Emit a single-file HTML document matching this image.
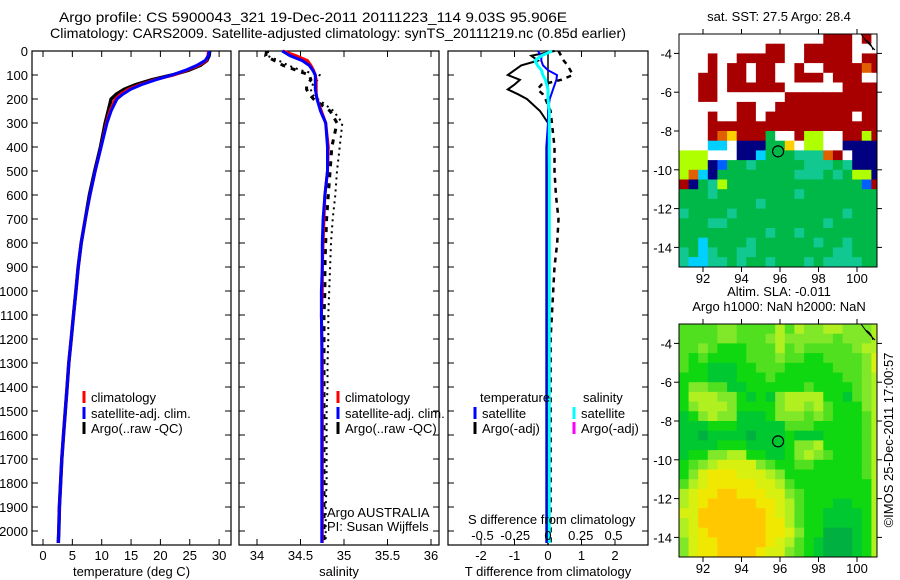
<!DOCTYPE html>
<html><head><meta charset="utf-8">
<style>
body{margin:0;background:#fff;}
svg{display:block;font-family:"Liberation Sans",sans-serif;}
text{fill:#000;}
</style></head>
<body>
<svg id="fig" width="900" height="580" viewBox="0 0 900 580" xmlns="http://www.w3.org/2000/svg">
<text x="59" y="22" font-size="14" textLength="508" lengthAdjust="spacingAndGlyphs">Argo profile: CS 5900043_321 19-Dec-2011 20111223_114 9.03S 95.906E</text>
<text x="50" y="38" font-size="14" textLength="576" lengthAdjust="spacingAndGlyphs">Climatology: CARS2009. Satellite-adjusted climatology: synTS_20111219.nc (0.85d earlier)</text>
<g id="g1"></g>
<g id="g2"></g>
<g id="g3"></g>
<g id="m1"></g>
<g id="m2"></g>
<text x="893" y="440" font-size="13" text-anchor="middle" transform="rotate(-90 893 440)">©IMOS 25-Dec-2011 17:00:57</text>
</svg>
<script>
const depths=[0,20,40,60,80,100,120,140,160,180,200,250,300,400,500,600,700,800,900,1000,1100,1200,1300,1400,1500,1600,1700,1800,1900,2000,2050];
const tempClim=[28.2,28.1,27.8,26.5,24.5,22.3,19,16.5,14.5,13.2,12.3,11.4,10.8,9.9,8.9,8.0,7.2,6.5,6.0,5.6,5.2,4.8,4.4,4.1,3.8,3.5,3.2,3.0,2.8,2.7,2.6];
const tempSat=[28.3,28.2,27.6,26.2,24.3,22.0,19.2,16.8,14.9,13.6,12.6,11.6,10.9,9.9,8.9,8.0,7.2,6.5,6.0,5.6,5.2,4.8,4.4,4.1,3.8,3.5,3.2,3.0,2.8,2.7,2.6];
const tempArgo=[28.4,28.3,27.9,26.8,24.8,22.0,18.5,15.8,13.8,12.5,11.6,11.1,10.6,9.8,8.8,7.9,7.2,6.5,6.0,5.6,5.2,4.8,4.4,4.1,3.8,3.5,3.2,3.0,2.8,2.7,2.6];
const salClim=[34.3,34.45,34.58,34.62,34.65,34.67,34.68,34.68,34.68,34.68,34.69,34.74,34.79,34.82,34.81,34.78,34.77,34.76,34.75,34.75,34.74,34.745,34.75,34.75,34.75,34.75,34.75,34.75,34.75,34.75,34.75];
const salSat=[34.29,34.38,34.52,34.6,34.64,34.67,34.67,34.67,34.67,34.68,34.69,34.73,34.79,34.81,34.81,34.78,34.76,34.75,34.75,34.74,34.74,34.745,34.745,34.745,34.745,34.745,34.745,34.745,34.745,34.745,34.745];
const salArgo=[34.11,34.1,34.2,34.3,34.45,34.6,34.62,34.57,34.57,34.6,34.65,34.84,34.92,34.86,34.84,34.82,34.8,34.79,34.78,34.78,34.77,34.77,34.77,34.77,34.77,34.77,34.77,34.77,34.77,34.77,34.77];
const salArgoRaw=[34.13,34.12,34.25,34.36,34.5,34.72,34.7,34.64,34.62,34.63,34.7,34.88,34.98,34.95,34.92,34.9,34.87,34.85,34.84,34.83,34.82,34.82,34.81,34.81,34.8,34.8,34.8,34.8,34.79,34.79,34.79];
const tdiffSat=[-0.3,-0.2,-0.2,-0.15,0.0,0.27,0.25,0.2,0.15,0.1,0.05,0,0,-0.05,-0.05,-0.05,-0.05,-0.05,-0.05,-0.05,-0.05,-0.05,-0.05,-0.05,-0.05,-0.05,-0.05,-0.05,-0.05,-0.05,-0.05];
const tdiffArgo=[0.2,-0.5,-0.3,-0.8,-1.0,-1.2,-0.84,-1.0,-1.2,-0.9,-0.63,-0.24,0,0.02,0,0,0,0,0,0,0,0,0,0,0,0,0,0,0,0,0];
const sdiffSat=[0.03,-0.05,-0.1,-0.08,-0.05,-0.04,-0.02,-0.01,0,0,0,0.01,0.01,0.01,0.01,0.01,0.01,0.01,0.01,0.01,0.01,0.01,0.01,0.01,0.01,0.01,0.01,0.01,0.01,0.01,0.01];
const sdiffArgo=[0.08,0.1,0.12,0.15,0.17,0.19,0.1,-0.05,-0.08,-0.04,-0.02,0.02,0.03,0.05,0.05,0.06,0.08,0.07,0.05,0.04,0.03,0.02,0.02,0.02,0.02,0.02,0.02,0.02,0.02,0.02,0.02];
const depthTicks=[0,100,200,300,400,500,600,700,800,900,1000,1100,1200,1300,1400,1500,1600,1700,1800,1900,2000];
const tempTicks=[0,5,10,15,20,25,30];
const salTicks=[34,34.5,35,35.5,36];
const tdTicks=[-2,-1,0,1,2];
const sdTicks=[-0.5,-0.25,0,0.25,0.5];
const sdTickLabels=["-0.5","-0.25","0","0.25","0.5"];
const lonTicks=[92,94,96,98,100];
const latTicks=[-4,-6,-8,-10,-12,-14];
const sstRows=[
"WWWWWWWWWWWWWWWRRRWRW","WWWWWWWWWRRWWRRRRRWWW","WWWRWWRRRRRWWRRRRRWRR","WWWRWRRWRRWWRWWRRRROR",
"WWRRWRRWRRWWRRRWRRRWW","WWRRWRRRRRRWWWWWWRRRR","WWRRWWWWWWWRRRRRRRRRR","WWWWWWRRWWRRRRRRRRRRR",
"WWWRWWRRWRRRRRRRRRWRR","WWWRRRRRRRRRRRRRRRRRR","WWWROYRRRGWWRLLWWRRLR","WWWCCWNNNGGYWLLWWNNNN",
"LLLWWWNNCGGGTTTORWNNN","LLLNBGGTGGGGGTTTGTNNN","LOCNGGGGGGGGTTTGTGLLN","RNGTLGGGGGGGGGGGGGGBR",
"GGGTGGGGGGGGTGGGGGGGG","GGGGGGGGTGGGGGGGGGGGG","TGGGGTGGGGGGGGGGGTGGG","GGGTTGGGGGGGGGGTGGGGG",
"GGGGGGGGGTGGTGGGGGGGG","GGCGGGGTGGGGGGTGGTGGG","TGCTGGTTGGGGGGGGTTGGG","TCCTTGTGGTGGGTGTTTTGG"];
const slaRows=[
"444455444464655665556","444455444565555545556","445433344464544444566","434333344454433444457",
"433222334443333344457","333222333433333334456","355442233333343333456","366655323256666332456",
"356665333356656433356","235655222355545433346","222333222224443333346","221222212223222333346",
"222233322223556333346","233556633223565433346","345677775433443333346","357888777653333333346",
"467888887764333333336","678899888775433333336","678999998876433322336","779999999876433222236",
"679999999886433222236","678999999887533111236","578899999876432111236","578899998775432111236"];
const argoLon=95.9, argoLat=-9.05;

const NS="http://www.w3.org/2000/svg";
function mk(parent,tag,attrs){const e=document.createElementNS(NS,tag);for(const k in attrs)e.setAttribute(k,attrs[k]);parent.appendChild(e);return e;}
const Y=d=>51+d*0.24;
const TOP=51,BOT=545;

function frame(g,x0,x1,xs,ticks,labels,title){
  let r=mk(g,'rect',{x:x0,y:TOP,width:x1-x0,height:BOT-TOP,fill:'none',stroke:'#000','stroke-width':1.2});
  
  ticks.forEach((t,i)=>{const x=xs(t);
    mk(g,'line',{x1:x,x2:x,y1:TOP,y2:TOP+6,stroke:'#000'});
    mk(g,'line',{x1:x,x2:x,y1:BOT,y2:BOT-6,stroke:'#000'});
    if(labels){const tx=mk(g,'text',{x:x,y:560,'font-size':13,'text-anchor':'middle'});tx.textContent=labels[i];
      }
  });
  depthTicks.forEach(d=>{mk(g,'line',{x1:x0,x2:x0+6,y1:Y(d),y2:Y(d),stroke:'#000'});mk(g,'line',{x1:x1,x2:x1-6,y1:Y(d),y2:Y(d),stroke:'#000'});});
  const tt=mk(g,'text',{x:(x0+x1)/2,y:576,'font-size':13,'text-anchor':'middle'});tt.textContent=title;
  
}
function line(g,xs,vals,color,w,dash,name){
  const pts=vals.map((v,i)=>xs(v).toFixed(1)+','+Y(depths[i]).toFixed(1)).join(' ');
  const a={points:pts,fill:'none',stroke:color,'stroke-width':w};if(dash)a['stroke-dasharray']=dash;
  const p=mk(g,'polyline',a);
  
  
}
function legend(g,x,y,color,label,name){
  mk(g,'line',{x1:x,x2:x,y1:y-11,y2:y+1,stroke:color,'stroke-width':3});
  const t=mk(g,'text',{x:x+7,y:y,'font-size':13});t.textContent=label;
  
}
// Panel 1
const g1=document.getElementById('g1');
const xT=v=>43+v*5.87;
frame(g1,32,231,xT,tempTicks,tempTicks.map(String),'temperature (deg C)');
depthTicks.forEach(d=>{const t=mk(g1,'text',{x:28,y:Y(d)+5,'font-size':13,'text-anchor':'end'});t.textContent=d;
  });
line(g1,xT,tempArgo,'#000',3.5,null,'argo-temperature-line');
line(g1,xT,tempClim,'#f00',3,null,'climatology-temperature-line');
line(g1,xT,tempSat,'#00f',3,null,'satellite-temperature-line');
legend(g1,84,402,'#f00','climatology','legend-climatology');
legend(g1,84,418,'#00f','satellite-adj. clim.','legend-satellite');
legend(g1,84,433,'#000','Argo(..raw -QC)','legend-argo');
// Panel 2
const g2=document.getElementById('g2');
const xS=v=>257+(v-34)*87;
frame(g2,239,439,xS,salTicks,["34","34.5","35","35.5","36"],'salinity');
line(g2,xS,salArgoRaw,'#000',2,'2,4','argo-raw-salinity-line');
line(g2,xS,salArgo,'#000',3,'5,6','argo-salinity-line');
line(g2,xS,salClim,'#f00',3,null,'climatology-salinity-line');
line(g2,xS,salSat,'#00f',3,null,'satellite-salinity-line');
legend(g2,338,402,'#f00','climatology','legend-climatology');
legend(g2,338,418,'#00f','satellite-adj. clim.','legend-satellite');
legend(g2,338,433,'#000','Argo(..raw -QC)','legend-argo');
[["Argo AUSTRALIA",517],["PI: Susan Wijffels",531]].forEach(a=>{const t=mk(g2,'text',{x:327,y:a[1],'font-size':13});t.textContent=a[0];
  });
// Panel 3
const g3=document.getElementById('g3');
const xD=v=>548+v*33.5;
const xSD=v=>548+v*131;
frame(g3,448,648,xD,tdTicks,tdTicks.map(String),'T difference from climatology');
mk(g3,'line',{x1:548,x2:548,y1:TOP,y2:BOT,stroke:'#000','stroke-width':1.5});
line(g3,xSD,sdiffArgo,'#000',2.5,'5,5','argo-salinity-diff-line');
line(g3,xD,tdiffArgo,'#000',2,null,'argo-temperature-diff-line');
line(g3,xD,tdiffSat,'#00f',2,null,'satellite-temperature-diff-line');
line(g3,xSD,sdiffSat,'#0ff',3,null,'satellite-salinity-diff-line');
const th=mk(g3,'text',{x:480,y:402,'font-size':13});th.textContent='temperature';

const sh=mk(g3,'text',{x:583,y:402,'font-size':13});sh.textContent='salinity';

legend(g3,475,418,'#00f','satellite','legend-t-satellite');
legend(g3,475,433,'#000','Argo(-adj)','legend-t-argo');
legend(g3,574,418,'#0ff','satellite','legend-s-satellite');
legend(g3,574,433,'#f0f','Argo(-adj)','legend-s-argo');
const sdt=mk(g3,'text',{x:468,y:524,'font-size':13});sdt.textContent='S difference from climatology';

sdTicks.forEach((v,i)=>{const t=mk(g3,'text',{x:xSD(v),y:540,'font-size':13,'text-anchor':'middle'});t.textContent=sdTickLabels[i];
  });
// Maps
const sstCol={R:'#a80000',O:'#e06000',Y:'#ffd000',L:'#b0ff00',G:'#00b848',T:'#10c890',N:'#000080',C:'#00d0ff',B:'#0060ff',W:'#ffffff'};
const slaCol={'1':'#00b040','2':'#00c830','3':'#10d810','4':'#50e020','5':'#80e828','6':'#b0f020','7':'#d8f010','8':'#f0e800','9':'#ffc800'};
function map(id,top,rows,cmap,titles){
  const g=document.getElementById(id);
  const L=679,R=877,B=top+233;
  const mx=lon=>703+(lon-92)*19.25;
  const my=lat=>top+(-3-lat)*19.4;
  const cid='clip'+id;
  const cp=mk(g,'clipPath',{id:cid});mk(cp,'rect',{x:L,y:top,width:R-L,height:B-top});
  const cg=mk(g,'g',{'clip-path':'url(#'+cid+')'});
  rows.forEach((row,j)=>{for(let i=0;i<row.length;i++){
    const lon=90.75+i*0.5, lat=-3-j*0.5;
    const c=mk(cg,'rect',{x:mx(lon).toFixed(1),y:my(lat).toFixed(1),width:10.2,height:10.3,fill:cmap[row[i]]});
    
    
  }});
  mk(cg,'path',{d:`M${R-16} ${top} L${R-10} ${top+8} L${R-2} ${top+16} M${R-12} ${top+6} q6 2 8 10`,stroke:'#000',fill:'none'});
  const m=mk(g,'circle',{cx:mx(argoLon),cy:my(argoLat),r:5.5,fill:'none',stroke:'#000','stroke-width':1.2});
  
  mk(g,'rect',{x:L,y:top,width:R-L,height:B-top,fill:'none',stroke:'#000'});
  lonTicks.forEach(v=>{mk(g,'line',{x1:mx(v),x2:mx(v),y1:B,y2:B+5,stroke:'#000'});mk(g,'line',{x1:mx(v),x2:mx(v),y1:top,y2:top-5,stroke:'#000'});
    const t=mk(g,'text',{x:mx(v),y:B+16,'font-size':13,'text-anchor':'middle'});t.textContent=v;
    });
  latTicks.forEach(v=>{mk(g,'line',{x1:L,x2:L-5,y1:my(v),y2:my(v),stroke:'#000'});mk(g,'line',{x1:R,x2:R+5,y1:my(v),y2:my(v),stroke:'#000'});
    const t=mk(g,'text',{x:L-7,y:my(v)+5,'font-size':13,'text-anchor':'end'});t.textContent=v;
    });
  titles.forEach((s,k)=>{const t=mk(g,'text',{x:779,y:top-15*(titles.length-k)+2,'font-size':13,'text-anchor':'middle'});t.textContent=s;
    });
}
map('m1',34,sstRows,sstCol,['sat. SST: 27.5 Argo: 28.4']);
map('m2',324,slaRows,slaCol,['Altim. SLA: -0.011','Argo h1000: NaN h2000: NaN']);
</script>
</body></html>
